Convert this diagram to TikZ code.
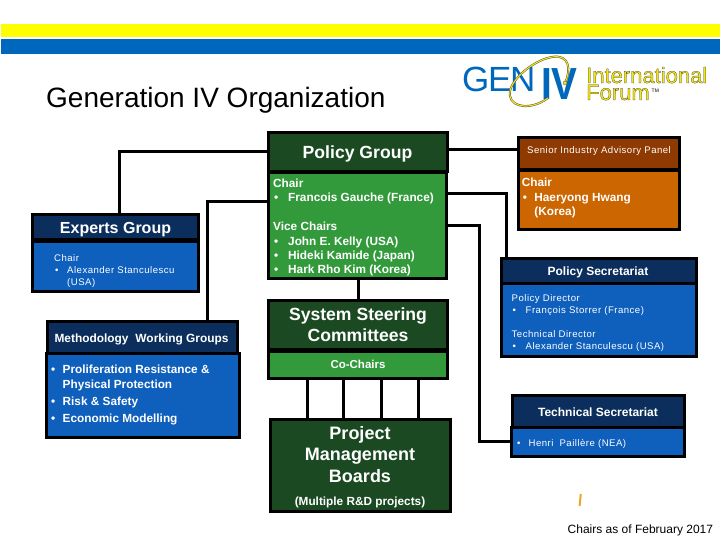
\documentclass[tikz,border=0pt]{standalone}
\usepackage{fontspec}
\setmainfont{Liberation Sans}
\newfontfamily\widefont[LetterSpace=5]{Liberation Sans}
\usetikzlibrary{calc}
\definecolor{gdark}{HTML}{1B4A22}
\definecolor{gbody}{HTML}{339A3C}
\definecolor{ndark}{HTML}{0B2E5C}
\definecolor{nbody}{HTML}{0F5FBD}
\definecolor{odark}{HTML}{8F3A00}
\definecolor{obody}{HTML}{CC6600}
\definecolor{barYellow}{rgb}{1,0.996,0.004}
\definecolor{bbar}{HTML}{0068BC}
\definecolor{logoy}{HTML}{F4E410}
\definecolor{tick}{HTML}{E8A820}
\newcommand\bul[1]{\makebox[#1][l]{\hspace{1pt}•}}
\newcommand\olt[1]{\special{pdf:code 2 Tr 0.25 w 0.25 0.25 0.2 RG}#1\special{pdf:code 0 Tr}}
% box by its outer edges; the border straddles a line 1.5 inside
\newcommand\bx[7]{\node[boxbase,#2,minimum width={(#5-#3-3)*1pt},minimum height={(#6-#4-3)*1pt}] (#1) at ({(#3+#5)/2},{(#4+#6)/2}) {#7};}
\tikzset{
  boxbase/.style={draw=black,line width=3pt,inner sep=0pt,outer sep=0pt,text=white,align=center},
  ghead/.style={fill=gdark},gbod/.style={fill=gbody},
  nhead/.style={fill=ndark},nbod/.style={fill=nbody},
  ohead/.style={fill=odark},obod/.style={fill=obody},
  conn/.style={draw=black,line width=3pt},
  big/.style={font=\bfseries\fontsize{17.6}{21}\selectfont},
  mid/.style={font=\bfseries\fontsize{12}{14.4}\selectfont},
  lab/.style={anchor=north west,inner sep=0pt,align=left,text=white},
  bold/.style={font=\bfseries\fontsize{11.8}{14.4}\selectfont},
  thin/.style={font=\widefont\fontsize{9.6}{12}\selectfont},
  plain/.style={inner sep=0pt,text=black},
  logotext/.style={plain,anchor=base west,text=logoy,font=\fontsize{22}{17}\selectfont,text height=14pt,text depth=0pt},
}
\begin{document}
\begin{tikzpicture}[x=1pt,y=-1pt]
\useasboundingbox (0,0) rectangle (720,540);
\fill[white] (0,0) rectangle (720,540);
\fill[barYellow] (0.5,24) rectangle (720,37);
\fill[bbar] (0.5,39) rectangle (720,54);
\node[plain,anchor=base west,font=\fontsize{28}{30}\selectfont] (title) at (46,108) {Generation IV Organization};
% logo
\node[plain,anchor=base west,text=bbar,font=\fontsize{35}{35}\selectfont] (lgen) at (462,92) {\addfontfeature{LetterSpace=-4}GEN};
\node[plain,anchor=base west,text=bbar,font=\bfseries\fontsize{45}{45}\selectfont,xscale=.86] (liv) at (541,100) {IV};
\draw[black!70,line width=2pt,line cap=round] (565,83) .. controls (571,70) and (570,54) .. (552,57) .. controls (533,60) and (507,82) .. (510,96) .. controls (512,108) and (532,110) .. (548,98);
\draw[logoy,line width=1.1pt,line cap=round] (565,83) .. controls (571,70) and (570,54) .. (552,57) .. controls (533,60) and (507,82) .. (510,96) .. controls (512,108) and (532,110) .. (548,98);
\fill[logoy,draw=black!70,line width=.3pt] (565,83) circle (2);
\node[logotext] (lint) at (586,83) {\olt{International}};
\node[logotext] (lfor) at (586,100) {\olt{Forum}};
\node[plain,anchor=base west,font=\fontsize{5}{5}\selectfont] (ltm) at (651.5,93) {TM};
% boxes
\bx{pgh}{ghead}{267}{131}{449}{173}{}
\bx{pgb}{gbod}{267}{171}{448}{279.5}{}
\bx{ssch}{ghead,big}{267}{299}{449}{351}{System Steering\\Committees}
\bx{sscb}{gbod}{267}{350}{449}{380}{}
\bx{pmb}{ghead}{269}{417.5}{452}{512.5}{}
\bx{egh}{nhead}{31}{213}{200}{241}{}
\bx{egb}{nbod}{31}{240}{200}{293}{}
\bx{mwh}{nhead}{46}{320}{239}{355}{}
\bx{mwb}{nbod}{45}{352}{241}{439}{}
\bx{siah}{ohead}{517}{136}{681}{171}{}
\bx{siab}{obod}{517}{169}{681}{231}{}
\bx{psh}{nhead}{500}{257}{697.5}{285}{}
\bx{psb}{nbod}{500}{282}{697.5}{358}{}
\bx{tsh}{nhead}{511}{394}{686}{429}{}
\bx{tsb}{nbod}{510}{426}{686}{457.5}{}
% header texts
\node[lab,big,anchor=center] (pgl) at (357.5,153.5) {Policy Group};
\node[lab,font=\bfseries\fontsize{16}{18}\selectfont,anchor=center] (egl) at (115.5,229.5) {Experts Group};
\node[lab,font=\bfseries\fontsize{11.9}{14}\selectfont,anchor=center] (mwl) at (141.5,339) {Methodology\hspace{.3em} Working Groups};
\node[lab,thin,anchor=center] (sial) at (599,151.5) {Senior Industry Advisory Panel};
\node[lab,mid,anchor=center] (psl) at (598,272.7) {Policy Secretariat};
\node[lab,mid,anchor=center] (tsl) at (598,412.5) {Technical Secretariat};
\node[lab,font=\bfseries\fontsize{11.5}{13}\selectfont,anchor=center] (scl) at (358,364) {Co-Chairs};
% body texts
\node[lab,bold] (pgt) at (273,178.7) {Chair\\\bul{15pt}Francois Gauche (France)\\[14.4pt]Vice Chairs\\\bul{15pt}John E. Kelly (USA)\\\bul{15pt}Hideki Kamide (Japan)\\\bul{15pt}Hark Rho Kim (Korea)};
\node[lab,font=\bfseries\fontsize{18}{21.5}\selectfont,anchor=north,align=center] (pmt) at (360,426.2) {Project\\Management\\Boards};
\node[lab,font=\bfseries\fontsize{11.8}{13}\selectfont,anchor=center] (pmn) at (360,502) {(Multiple R\&D projects)};
\node[lab,thin] (egt) at (54,254.5) {Chair\\\bul{13pt}Alexander Stanculescu\\\makebox[13pt]{}(USA)};
\node[lab,bold] (mwt) at (50,365) {\bul{12.5pt}Proliferation Resistance \&\\\makebox[12.5pt]{}Physical Protection\\[3pt]\bul{12.5pt}Risk \& Safety\\[3pt]\bul{12.5pt}Economic Modelling};
\node[lab,bold] (siat) at (521.7,178) {Chair\\\bul{12.5pt}Haeryong Hwang\\\makebox[12.5pt]{}(Korea)};
\node[lab,thin] (pst) at (511.5,294) {Policy Director\\\bul{14pt}François Storrer (France)\\[12pt]Technical Director\\\bul{14pt}Alexander Stanculescu (USA)};
\node[lab,thin] (tst) at (516,439) {\bul{12.5pt}Henri\hspace{.3em} Paillère (NEA)};
\node[plain,anchor=base west,font=\fontsize{12}{14}\selectfont] (foot) at (567.5,533.5) {Chairs as of February 2017};
% connectors
\coordinate (bend) at (479.3,225);
\draw[conn] (pgh.west) -| ([xshift=4pt]egh.north);
\draw[conn] ([yshift=23.5pt]pgb.west) -| ([xshift=65pt]mwh.north);
\draw[conn] ([yshift=2pt]pgh.east) -- ([yshift=2pt]pgh.east -| siah.west);
\draw[conn] ([yshift=32pt]pgb.east) -| ([xshift=-92.7pt]psh.north);
\draw[conn] (pgb.east) -- (pgb.east -| bend) |- (tsb.west);
\draw[conn] (pgb.south -| ssch.north) -- (ssch.north);
\foreach \s in {-51,-14.5,23,60.5}
  \draw[conn] ([xshift=\s pt]sscb.south) -- ([xshift=\s pt]sscb.south |- pmb.north);
\draw[tick,line width=2pt] (580.8,494) -- (579.6,506);
\end{tikzpicture}
\end{document}
